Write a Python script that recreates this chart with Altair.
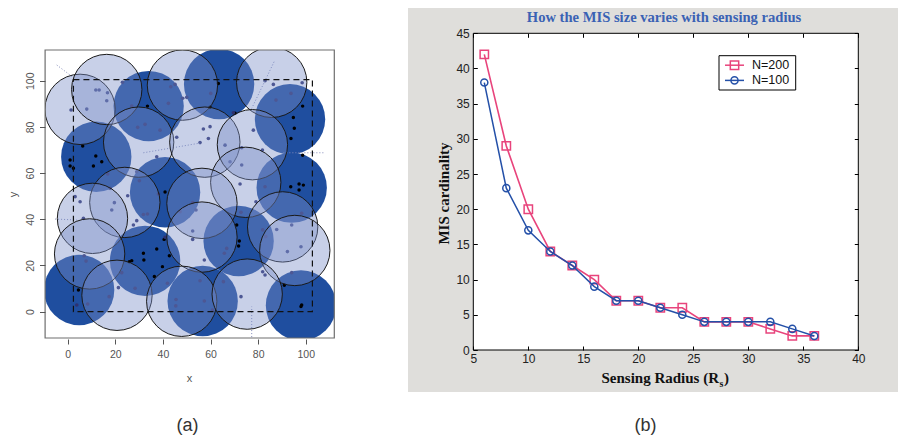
import altair as alt
import pandas as pd

# ---------------- panel (a) data ----------------
dark_x = [63.6, 34.0, 93.4, 12.0, 40.9, 94.1, 71.8, 32.5, 4.8, 56.7, 98.0]
dark_y = [98.6, 89.0, 83.3, 67.1, 51.7, 53.7, 30.6, 22.0, 9.4, 4.6, 2.7]

light_x = [5.2, 16.4, 48.2, 85.7, 29.8, 57.6, 77.6, 74.8, 24.0, 10.4, 56.4, 90.3, 9.2, 56.4, 95.4, 20.7, 47.9, 75.4]
light_y = [87.6, 96.2, 98.1, 99.3, 73.4, 73.4, 72.3, 56.0, 47.3, 40.4, 46.9, 36.7, 25.0, 32.3, 26.5, 7.1, 4.5, 7.6]

blk_x = [1.0, 1.0, 2.4, 11.8, 10.8, 14.3, 6.3, 33.5, 40.9, 40.5, 37.4, 31.8, 32.0, 26.9, 25.9, 39.8, 42.7,
         36.4, 4.5, 63.3, 94.8, 95.2, 93.8, 98.7, 98.7, 93.7, 97.2, 99.0, 97.2, 71.0, 72.1, 71.8, 91.0,
         98.3, 98.0, 70.3, 59.8]
blk_y = [65.7, 63.1, 62.1, 67.4, 63.1, 64.9, 71.7, 89.0, 51.8, 31.3, 27.1, 25.3, 22.4, 22.1, 21.6, 19.5, 24.2,
         15.2, 9.4, 98.8, 84.1, 79.4, 75.0, 89.0, 67.7, 54.1, 55.3, 54.8, 52.7, 37.5, 30.6, 28.4, 11.4,
         2.9, 2.2, 85.9, 88.5]

gry_x = [1.4, 8.0, 11.8, 13.2, 16.7, 16.4, 23.0, 26.9, 29.4, 32.5, 38.8, 42.3, 43.3, 45.1, 48.3, 50.0,
         45.8, 55.6, 57.0, 59.8, 59.1, 60.1, 66.1, 69.6, 78.0, 81.8, 82.9, 86.4, 87.5, 93.8, 98.5, 73.1,
         68.2, 73.1, 72.4, 79.1, 82.9, 37.4, 38.1, 30.1, 29.0, 16.8, 17.8, 19.6, 18.5, 5.2, 3.1, 6.6,
         25.2, 29.0, 27.6, 31.8, 33.5, 40.9, 47.2, 52.5, 53.9, 52.5, 52.5, 57.4, 66.8, 65.8, 72.8, 81.9,
         83.2, 87.8, 94.1, 98.3, 92.3, 98.0, 94.1, 81.9, 82.9, 6.9, 7.7, 3.8, 8.4, 17.4, 21.3, 28.3,
         22.7, 41.9, 45.5, 45.4, 55.6, 57.4, 65.4, 72.8, 60.8]
gry_y = [87.3, 87.7, 96.0, 96.0, 94.8, 91.3, 99.3, 89.0, 79.8, 81.1, 78.6, 90.2, 97.4, 98.4, 92.4, 92.8,
         75.5, 73.2, 79.1, 80.1, 75.0, 94.5, 72.1, 86.1, 78.6, 70.0, 100.0, 98.4, 91.6, 94.5, 99.1, 71.0,
         64.9, 63.5, 55.3, 47.6, 54.1, 67.1, 50.9, 56.7, 60.6, 59.6, 53.4, 47.2, 44.0, 47.6, 49.8, 40.4,
         50.2, 39.4, 37.5, 42.1, 42.3, 32.2, 43.3, 47.2, 44.0, 34.9, 31.3, 22.4, 27.4, 25.3, 43.0, 35.4,
         32.5, 35.6, 37.5, 42.6, 26.0, 28.1, 16.9, 17.3, 15.9, 24.2, 21.9, 2.9, 3.3, 6.5, 10.4, 10.1,
         16.9, 12.3, 5.3, 2.5, 13.4, 4.6, 13.0, 6.5, 0.7]

# faint dotted cell boundaries
seg_x = [-4.6, 90.6, -5.3, 77.3, 86.7, 31.8]
seg_y = [106.8, 68.8, 40.1, -12.3, 108.2, 68.8]
seg_x2 = [3.8, 107.4, 3.8, 77.3, 77.3, 55.6]
seg_y2 = [100.3, 68.8, 39.7, 2.2, 88.0, 73.0]

region_x = [2.4]
region_x2 = [102.8]
region_y = [0.0]
region_y2 = [100.5]
ticks_a = [0, 20, 40, 60, 80, 100]

# ---------------- panel (b) data ----------------
radius = [6, 8, 10, 12, 14, 16, 18, 20, 22, 24, 26, 28, 30, 32, 34, 36]
n200 = [42, 29, 20, 14, 12, 10, 7, 7, 6, 6, 4, 4, 4, 3, 2, 2]
n100 = [38, 23, 17, 14, 12, 9, 7, 7, 6, 5, 4, 4, 4, 4, 3, 2]
series_names = ["N=200", "N=100"]
ticks_bx = [5, 10, 15, 20, 25, 30, 35, 40]
ticks_by = [0, 5, 10, 15, 20, 25, 30, 35, 40, 45]
title_b = "How the MIS size varies with sensing radius"
panel_labels = ["(a)", "(b)"]

PINK = "#e8447c"
BLUE = "#2450a8"
DARK = "#1f4e9f"

W, H = 890, 428


def sa_x():
    return alt.Scale(domain=[-9.5, 112], range=[37.1, 326.3], nice=False, zero=False)


def sa_y():
    return alt.Scale(domain=[-11.4, 113.3], range=[330.0, 42.0], nice=False, zero=False)


def sb_x():
    return alt.Scale(domain=[5, 40], range=[465.3, 850.3], nice=False, zero=False)


def sb_y():
    return alt.Scale(domain=[0, 45], range=[342.0, 25.3], nice=False, zero=False)


one = pd.DataFrame({"k": [0]})


def deco_rect(x, x2, y, y2, **kw):
    return alt.Chart(one).mark_rect(**kw).encode(
        x=alt.value(x), x2=alt.value(x2), y=alt.value(y), y2=alt.value(y2))


def deco_text(txt, x, y, **kw):
    return alt.Chart(pd.DataFrame({"t": [txt]})).mark_text(**kw).encode(
        x=alt.value(x), y=alt.value(y), text="t:N")


# ---------- panel (a) axes ----------
axis_a_x = alt.Axis(values=ticks_a, orient="bottom", offset=-97, domain=False, grid=False,
                    tickSize=5, tickColor="#555555", labelColor="#555555", labelFont="Liberation Sans",
                    labelFontSize=10.5, labelPadding=5, labelFlush=False, labelOverlap=False,
                    title="x", titleFont="Liberation Sans", titleFontSize=11, titleFontWeight="normal",
                    titleColor="#555555", titleX=181, titleY=39, titleBaseline="middle", titleAlign="center",
                    zindex=1)
axis_a_y = alt.Axis(values=ticks_a, orient="left", offset=-37, domain=False, grid=False,
                    tickSize=5.5, tickColor="#555555", labelColor="#555555", labelFont="Liberation Sans",
                    labelFontSize=10.5, labelAngle=270, labelAlign="center", labelBaseline="middle",
                    labelPadding=9, labelFlush=False, labelOverlap=False,
                    title="y", titleFont="Liberation Sans", titleFontSize=11, titleFontWeight="normal",
                    titleColor="#555555", titleAngle=270, titleX=-32, titleY=186, titleBaseline="middle",
                    titleAlign="center", zindex=1)

df_dark = pd.DataFrame({"x": dark_x, "y": dark_y})
df_light = pd.DataFrame({"x": light_x, "y": light_y})
df_blk = pd.DataFrame({"x": blk_x, "y": blk_y})
df_gry = pd.DataFrame({"x": gry_x, "y": gry_y})
df_seg = pd.DataFrame({"x": seg_x, "y": seg_y, "x2": seg_x2, "y2": seg_y2})
df_region = pd.DataFrame({"x": region_x, "x2": region_x2, "y": region_y, "y2": region_y2})

dark = alt.Chart(df_dark).mark_circle(size=4950, color=DARK, opacity=1).encode(
    x=alt.X("x:Q", scale=sa_x(), axis=axis_a_x),
    y=alt.Y("y:Q", scale=sa_y(), axis=axis_a_y))

blk = alt.Chart(df_blk).mark_circle(size=12, color="#000000", opacity=1).encode(
    x=alt.X("x:Q", scale=sa_x(), axis=None),
    y=alt.Y("y:Q", scale=sa_y(), axis=None))

gry = alt.Chart(df_gry).mark_circle(size=13, color="#2e3270", opacity=1).encode(
    x=alt.X("x:Q", scale=sa_x(), axis=None),
    y=alt.Y("y:Q", scale=sa_y(), axis=None))

segs = alt.Chart(df_seg).mark_rule(color="#8088b8", strokeWidth=1, strokeDash=[1, 2]).encode(
    x=alt.X("x:Q", scale=sa_x(), axis=None), x2="x2:Q",
    y=alt.Y("y:Q", scale=sa_y(), axis=None), y2="y2:Q")

light = alt.Chart(df_light).mark_circle(size=4950, fill="#798cc7", fillOpacity=0.41, opacity=1,
                                        stroke="#1a1a1a", strokeWidth=1, strokeOpacity=1).encode(
    x=alt.X("x:Q", scale=sa_x(), axis=None),
    y=alt.Y("y:Q", scale=sa_y(), axis=None))

region = alt.Chart(df_region).mark_rect(fill="white", fillOpacity=0, stroke="#111111",
                                        strokeWidth=1.2, strokeDash=[6, 4]).encode(
    x=alt.X("x:Q", scale=sa_x(), axis=None), x2="x2:Q",
    y=alt.Y("y:Q", scale=sa_y(), axis=None), y2="y2:Q")

masks = [
    deco_rect(-8, 37.1, -8, 436, color="white"),
    deco_rect(326.3, 398, -8, 436, color="white"),
    deco_rect(37.1, 326.3, -8, 42, color="white"),
    deco_rect(37.1, 326.3, 330, 436, color="white"),
]
frame_a = deco_rect(37.1, 326.3, 42, 330, fill="white", fillOpacity=0, stroke="#6e6e6e", strokeWidth=1.2)

# ---------- panel (b) ----------
bg_b = deco_rect(400, 898, -8, 384, color="#dfdedb")
plot_b = deco_rect(465.3, 850.3, 25.3, 342, color="white")

axis_b_x = alt.Axis(values=ticks_bx, orient="bottom", offset=-90, domain=False, grid=False,
                    tickSize=4, tickColor="#000000", labelColor="#222222", labelFont="Liberation Sans",
                    labelFontSize=12, labelPadding=3, labelFlush=False, labelOverlap=False,
                    title="", zindex=1)
axis_b_y = alt.Axis(values=ticks_by, orient="left", offset=-469.3, domain=False, grid=False,
                    tickSize=4, tickColor="#000000", labelColor="#222222", labelFont="Liberation Sans",
                    labelFontSize=12, labelPadding=4, labelFlush=False, labelOverlap=False,
                    title="MIS cardinality", titleFont="Liberation Serif", titleFontSize=15,
                    titleFontWeight="bold", titleColor="#111111", titleAngle=270, titleX=-34.3, titleY=185,
                    titleBaseline="middle", titleAlign="center", zindex=1)
axis_b_top = alt.Axis(values=ticks_bx, orient="top", offset=-29.3, domain=False, grid=False,
                      tickSize=4, tickColor="#000000", labels=False, title="", zindex=1)
axis_b_right = alt.Axis(values=ticks_by, orient="right", offset=-43.7, domain=False, grid=False,
                        tickSize=4, tickColor="#000000", labels=False, title="", zindex=1)

df200 = pd.DataFrame({"r": radius, "v": n200})
df100 = pd.DataFrame({"r": radius, "v": n100})

line200 = alt.Chart(df200).mark_line(color=PINK, strokeWidth=1.6).encode(
    x=alt.X("r:Q", scale=sb_x(), axis=axis_b_x),
    y=alt.Y("v:Q", scale=sb_y(), axis=axis_b_y))
pts200 = alt.Chart(df200).mark_point(shape="square", filled=False, size=70, strokeWidth=1.5,
                                     color=PINK, opacity=1).encode(
    x=alt.X("r:Q", scale=sb_x(), axis=None),
    y=alt.Y("v:Q", scale=sb_y(), axis=None))
line100 = alt.Chart(df100).mark_line(color=BLUE, strokeWidth=1.5).encode(
    x=alt.X("r:Q", scale=sb_x(), axis=axis_b_top),
    y=alt.Y("v:Q", scale=sb_y(), axis=axis_b_right))
pts100 = alt.Chart(df100).mark_point(shape="circle", filled=False, size=50, strokeWidth=1.5,
                                     color=BLUE, opacity=1).encode(
    x=alt.X("r:Q", scale=sb_x(), axis=None),
    y=alt.Y("v:Q", scale=sb_y(), axis=None))

frame_b = deco_rect(465.3, 850.3, 25.3, 342, fill="white", fillOpacity=0, stroke="#000000", strokeWidth=1)

# legend (b)
leg_box = deco_rect(711, 787.7, 47.7, 82, fill="white", stroke="#000000", strokeWidth=1)
leg = []
for name, col, shp, sz, yy in [(series_names[0], PINK, "square", 70, 57.2),
                               (series_names[1], BLUE, "circle", 50, 72.4)]:
    d = pd.DataFrame({"t": [name]})
    leg.append(alt.Chart(d).mark_rule(color=col, strokeWidth=1.5).encode(
        x=alt.value(717), x2=alt.value(736), y=alt.value(yy)))
    leg.append(alt.Chart(d).mark_point(shape=shp, filled=False, size=sz, strokeWidth=1.5,
                                       color=col, opacity=1).encode(x=alt.value(726.5), y=alt.value(yy)))
    leg.append(alt.Chart(d).mark_text(align="left", baseline="middle", font="Liberation Sans",
                                      fontSize=12.5, color="#111111").encode(
        x=alt.value(744), y=alt.value(yy), text="t:N"))

texts = [
    deco_text(title_b, 656, 9.5, font="Liberation Serif", fontSize=14.6, fontWeight="bold",
              color="#3a62b4", align="center", baseline="middle"),
    deco_text("Sensing Radius (R", 711, 370, font="Liberation Serif", fontSize=15, fontWeight="bold",
              color="#111111", align="right", baseline="middle"),
    deco_text("s", 711.5, 376, font="Liberation Serif", fontSize=10, fontWeight="bold",
              color="#111111", align="left", baseline="middle"),
    deco_text(")", 716, 370, font="Liberation Serif", fontSize=15, fontWeight="bold",
              color="#111111", align="left", baseline="middle"),
    deco_text(panel_labels[0], 179.5, 417.5, font="Liberation Sans", fontSize=18,
              color="#333333", align="center", baseline="middle"),
    deco_text(panel_labels[1], 637.5, 417.5, font="Liberation Sans", fontSize=18,
              color="#333333", align="center", baseline="middle"),
]

layers = [bg_b, plot_b, dark, blk, gry, segs, light, region] + masks + [frame_a, line200, pts200, line100,
                                                                        pts100, frame_b, leg_box] + leg + texts

chart = alt.layer(*layers).resolve_scale(x="independent", y="independent").resolve_axis(
    x="independent", y="independent").properties(
    width=W, height=H, autosize=alt.AutoSizeParams(type="none"), padding=0,
    background="white").configure_view(stroke=None)

chart.save("out.html", embed_options={"renderer": "svg", "actions": False})
